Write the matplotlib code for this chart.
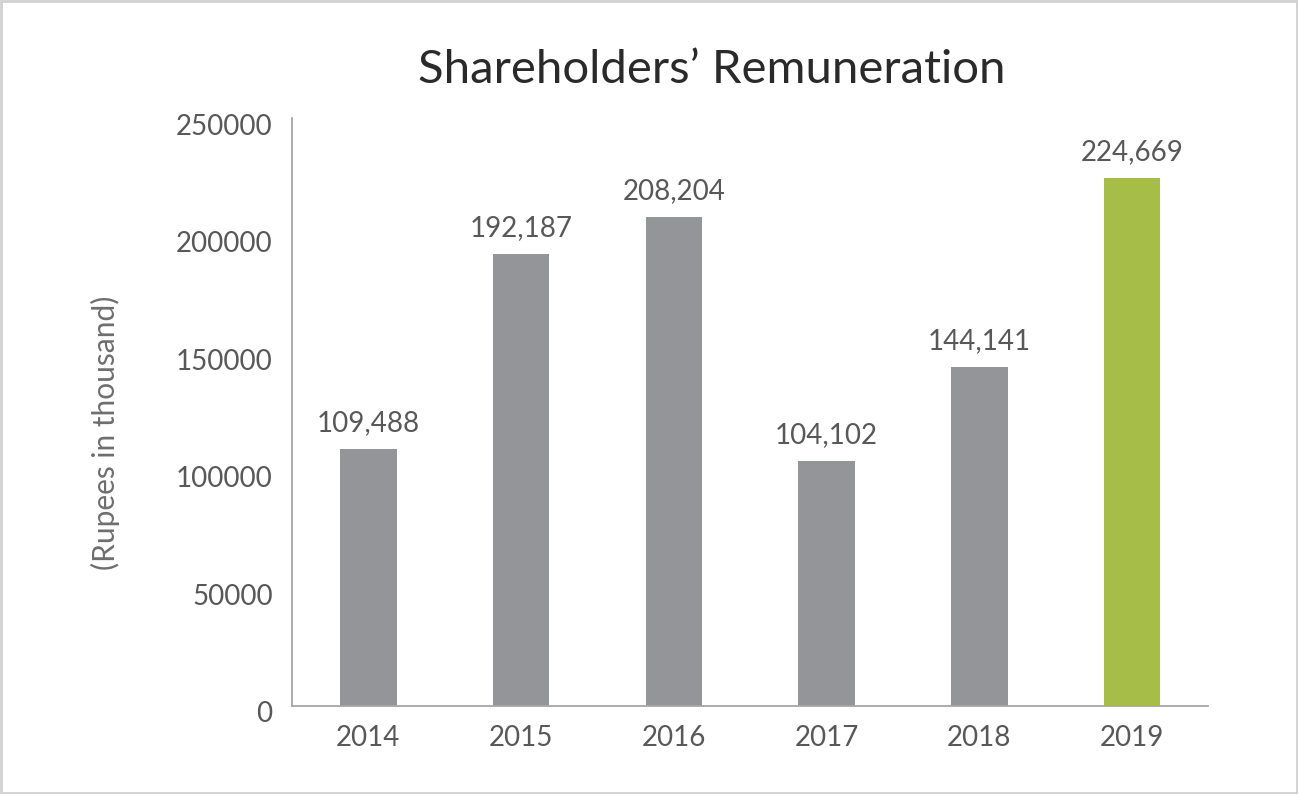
import matplotlib
matplotlib.use("Agg")
import matplotlib.pyplot as plt
from matplotlib.patches import Rectangle
from matplotlib.transforms import ScaledTranslation

years = ["2014", "2015", "2016", "2017", "2018", "2019"]
values = [109488, 192187, 208204, 104102, 144141, 224669]
value_labels = ["109,488", "192,187", "208,204", "104,102", "144,141", "224,669"]
yticks = [0, 50000, 100000, 150000, 200000, 250000]

gray = "#939598"
green = "#a6bd48"
colors = [gray] * 5 + [green]
text_color = "#585858"

plt.rcParams["font.family"] = ["Lato", "DejaVu Sans"]

fig = plt.figure(figsize=(12.98, 7.94), dpi=100)
ax = fig.add_axes([0.225, 0.111, 0.706, 0.740])

x = range(len(years))
ax.bar(x, values, width=0.37, color=colors)
for xi, v, lab in zip(x, values, value_labels):
    ax.text(xi, v + 5500, lab, ha="center", va="bottom", fontsize=20,
            color=text_color)

ax.set_xlim(-0.5, 5.5)
ax.set_ylim(0, 250000)
ax.set_xticks(list(x))
ax.set_xticklabels(years, fontsize=20, color=text_color)
ax.set_yticks(yticks)
ax.set_yticklabels([str(t) for t in yticks], fontsize=20, color=text_color)
ax.tick_params(axis="y", length=0, pad=14)
ax.tick_params(axis="x", length=0, pad=14)
off = ScaledTranslation(0, -6 / 100, fig.dpi_scale_trans)
for lbl in ax.get_yticklabels():
    lbl.set_transform(lbl.get_transform() + off)

for s in ["top", "right"]:
    ax.spines[s].set_visible(False)
for s in ["left", "bottom"]:
    ax.spines[s].set_color("#a6a6a6")
    ax.spines[s].set_linewidth(1.3)

fig.text(105 / 1298, 1 - 433 / 794, "(Rupees in thousand)", rotation=90,
         ha="center", va="center", fontsize=21.5, color="#6e6e6e")

fig.text(0.548, 0.912, "Shareholders\u2019 Remuneration", ha="center", va="center",
         fontsize=34, color="#2a2a2a")

fig.patches.append(Rectangle((0.001, 0.001), 0.998, 0.998, transform=fig.transFigure,
                             fill=False, edgecolor="#d0d0d0", linewidth=2))

fig.savefig("out.png", dpi=100)
